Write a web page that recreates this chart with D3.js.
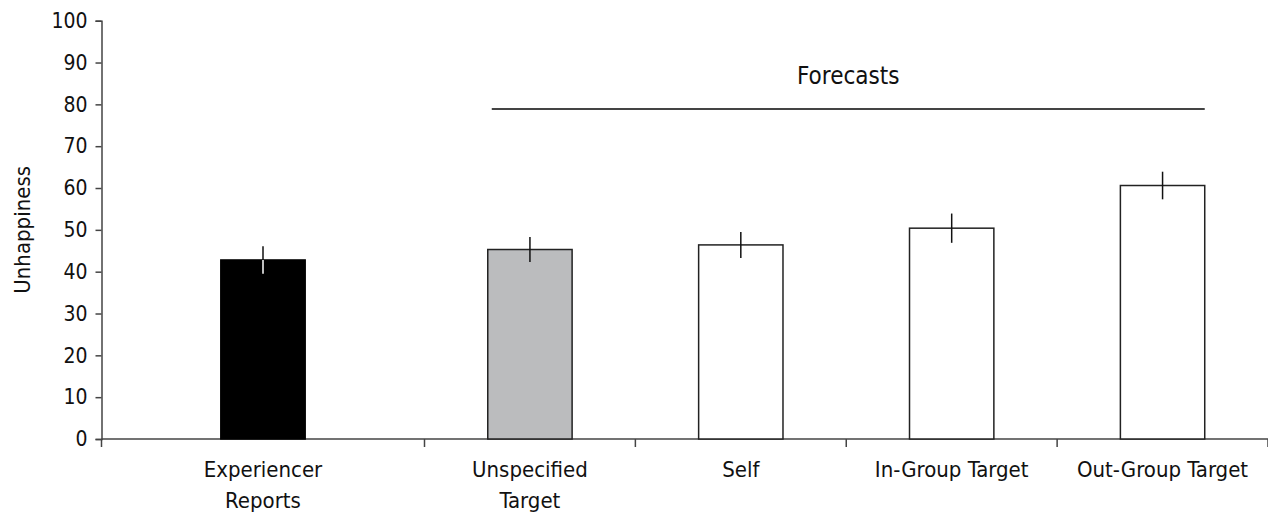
<!DOCTYPE html>
<html>
<head>
<meta charset="utf-8">
<script src="https://cdn.jsdelivr.net/npm/d3@7"></script>
<style>
  html, body { margin: 0; padding: 0; background: #fff; }
  svg { display: block; }
  text { font-family: "DejaVu Sans Condensed", "Liberation Sans", Arial, sans-serif; fill: #111; }
</style>
</head>
<body>
<svg id="chart" width="1268" height="516"></svg>
<script>
// Mean unhappiness ratings with standard-error bars
const categories = ["Experiencer Reports", "Unspecified Target", "Self", "In-Group Target", "Out-Group Target"];
const labelLines = [["Experiencer", "Reports"], ["Unspecified", "Target"], ["Self"], ["In-Group Target"], ["Out-Group Target"]];
const means  = [42.8, 45.3, 46.4, 50.4, 60.6];
const errors = [3.3, 3.0, 3.1, 3.5, 3.3];
const fills  = ["#000000", "#bbbcbe", "#ffffff", "#ffffff", "#ffffff"];
const yTicks = [0, 10, 20, 30, 40, 50, 60, 70, 80, 90, 100];
const forecastLabel = "Forecasts";
const forecastLevel = 78.9;

const fontFamily = "DejaVu Sans Condensed, Liberation Sans, Arial, sans-serif";
const labelSize = 22;
const tickSize = 21;

const svg = d3.select("#chart");
const axisColor = "#444";

// y: 0..100
const y = d3.scaleLinear().domain([0, 100]).range([439, 20.7]);

// x: slot edges; the first (experiencer) slot is wider than the four forecast slots
const slot = d3.scaleLinear().domain([0, 1, 5]).range([101.5, 424.5, 1268]);
const unit = slot(2) - slot(1);
const barW = unit * 0.4;
const cx = i => (slot(i) + slot(i + 1)) / 2;

// Y axis
const yAxis = d3.axisLeft(y).tickValues(yTicks).tickSize(6).tickPadding(8).tickFormat(d3.format("d"));
const gy = svg.append("g").attr("transform", `translate(${slot(0)},0)`).call(yAxis);
gy.select(".domain").attr("stroke", axisColor).attr("stroke-width", 1.5);
gy.selectAll(".tick line").attr("stroke", axisColor).attr("stroke-width", 1.5);
gy.selectAll(".tick text").attr("font-size", tickSize).attr("font-family", fontFamily).attr("fill", "#111");

// Y title
svg.append("text")
  .attr("transform", `translate(30,${y(50)}) rotate(-90)`)
  .attr("text-anchor", "middle")
  .attr("font-size", labelSize)
  .text("Unhappiness");

// X axis line and slot ticks
svg.append("line")
  .attr("x1", slot(0)).attr("x2", slot(5))
  .attr("y1", y(0)).attr("y2", y(0))
  .attr("stroke", axisColor).attr("stroke-width", 1.5);
svg.append("g").selectAll("line").data(d3.range(0, 6)).join("line")
  .attr("x1", d => slot(d)).attr("x2", d => slot(d))
  .attr("y1", y(0)).attr("y2", y(0) + 8)
  .attr("stroke", axisColor).attr("stroke-width", 1.5);

// Bars
svg.append("g").selectAll("rect").data(means).join("rect")
  .attr("x", (d, i) => cx(i) - barW / 2)
  .attr("y", d => y(d))
  .attr("width", barW)
  .attr("height", d => y(0) - y(d))
  .attr("fill", (d, i) => fills[i])
  .attr("stroke", (d, i) => i === 0 ? "#000" : "#222")
  .attr("stroke-width", 1.5);

// Error bars: upper half black, lower half contrasts with the bar fill
const eb = svg.append("g");
means.forEach((m, i) => {
  eb.append("line")
    .attr("x1", cx(i)).attr("x2", cx(i))
    .attr("y1", y(m + errors[i])).attr("y2", y(m))
    .attr("stroke", "#111").attr("stroke-width", 1.5);
  eb.append("line")
    .attr("x1", cx(i)).attr("x2", cx(i))
    .attr("y1", y(m)).attr("y2", y(m - errors[i]))
    .attr("stroke", fills[i] === "#000000" ? "#fff" : "#111").attr("stroke-width", 1.5);
});

// Category labels
const lab = svg.append("g");
labelLines.forEach((lines, i) => {
  const t = lab.append("text")
    .attr("x", cx(i)).attr("y", 477)
    .attr("text-anchor", "middle")
    .attr("font-size", labelSize);
  lines.forEach((ln, k) => {
    t.append("tspan").attr("x", cx(i)).attr("dy", k === 0 ? 0 : 31).text(ln);
  });
});

// Forecasts bracket over the four forecast bars
const fx1 = cx(1) - barW / 2 + 4;
const fx2 = cx(4) + barW / 2;
svg.append("line")
  .attr("x1", fx1).attr("x2", fx2)
  .attr("y1", y(forecastLevel)).attr("y2", y(forecastLevel))
  .attr("stroke", "#444").attr("stroke-width", 2);
svg.append("text")
  .attr("x", (fx1 + fx2) / 2).attr("y", 84)
  .attr("text-anchor", "middle")
  .attr("font-size", 24)
  .text(forecastLabel);
</script>
</body>
</html>
